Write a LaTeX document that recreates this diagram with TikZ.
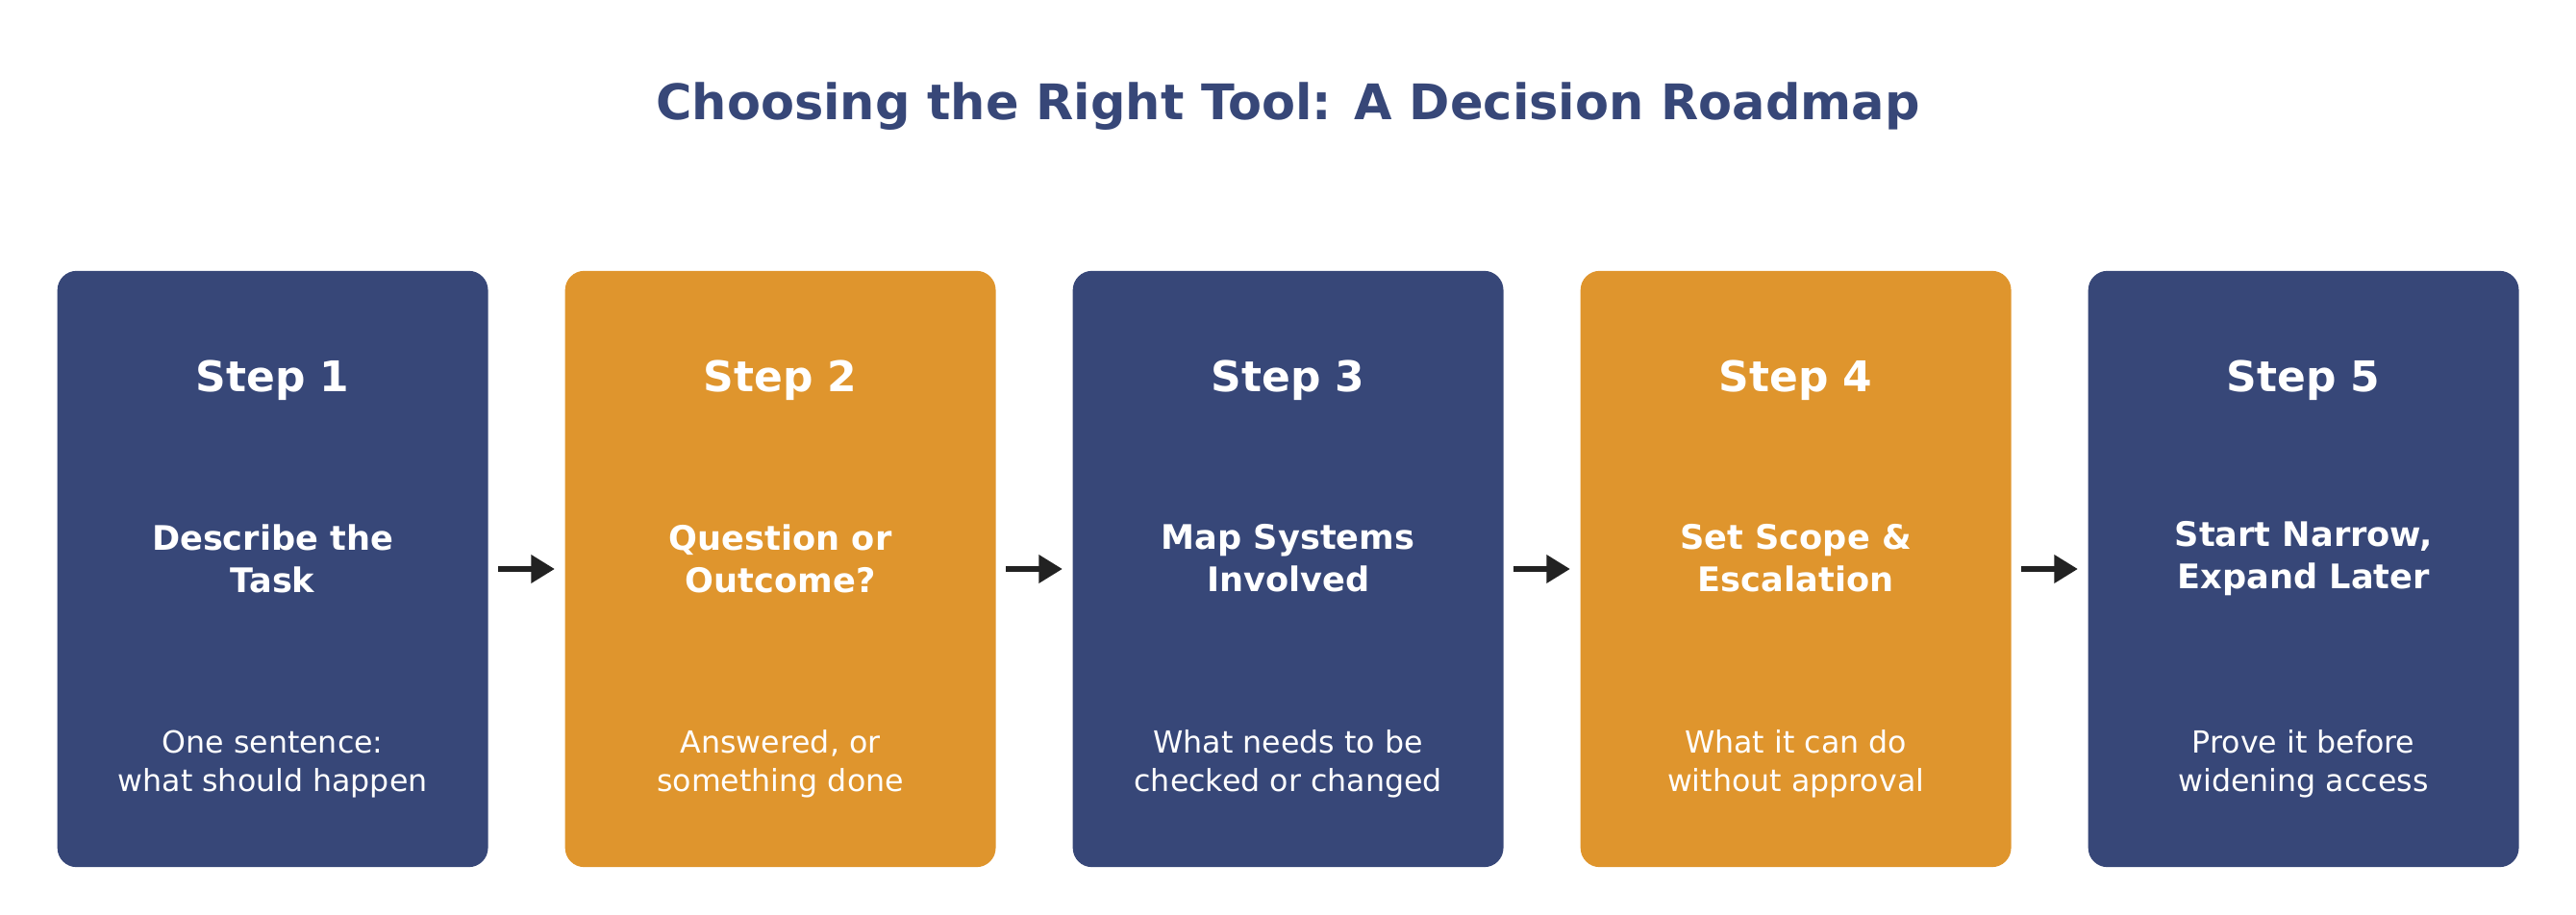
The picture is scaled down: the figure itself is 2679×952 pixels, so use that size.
\documentclass[tikz,border=0pt]{standalone}
\usepackage{fontspec}
\setmainfont{DejaVu Sans}
\usetikzlibrary{arrows.meta}
\definecolor{navy}{HTML}{374778}
\definecolor{orng}{HTML}{DF952D}
\definecolor{arr}{HTML}{222222}
\begin{document}
\begin{tikzpicture}[x=0.01cm,y=-0.01cm,
  box/.style={rounded corners=0.2cm,minimum width=4.476cm,minimum height=6.2cm,inner sep=0},
  steplbl/.style={text=white,font=\fontsize{12.5}{15}\selectfont\bfseries},
  head/.style={text=white,font=\fontsize{10}{12.5}\selectfont\bfseries,align=center},
  sub/.style={text=white,font=\fontsize{9}{11.5}\selectfont,align=center},
  con/.style={draw=arr,line width=1.8pt,-{Triangle[length=7pt,width=8pt]}}]
\useasboundingbox (0,0) rectangle (2679,952);
\node[text=navy,font=\fontsize{14.5}{17}\selectfont\bfseries] (title) at (1339.5,111) {Choosing the Right Tool: A Decision Roadmap};
\foreach \i/\c/\h/\s in {1/navy/{Describe the\\Task}/{One sentence:\\what should happen},
  2/orng/{Question or\\Outcome?}/{Answered, or\\something done},
  3/navy/{Map Systems\\Involved}/{What needs to be\\checked or changed},
  4/orng/{Set Scope \&\\Escalation}/{What it can do\\without approval},
  5/navy/{Start Narrow,\\Expand Later}/{Prove it before\\widening access}}{
  \pgfmathsetmacro\cx{283.6+528*(\i-1)}
  \node[box,fill=\c] (b\i) at (\cx,592) {};
  \node[steplbl] (s\i) at (\cx,396) {Step \i};
  \node[head] (h\i) at (\cx,581) {\h};
  \node[sub] (t\i) at (\cx,795) {\s};
}
\foreach \a/\b in {1/2,2/3,3/4,4/5}{
  \draw[con] ([xshift=0.1cm]b\a.east) -- ([xshift=-0.1cm]b\b.west);
}
\end{tikzpicture}
\end{document}
